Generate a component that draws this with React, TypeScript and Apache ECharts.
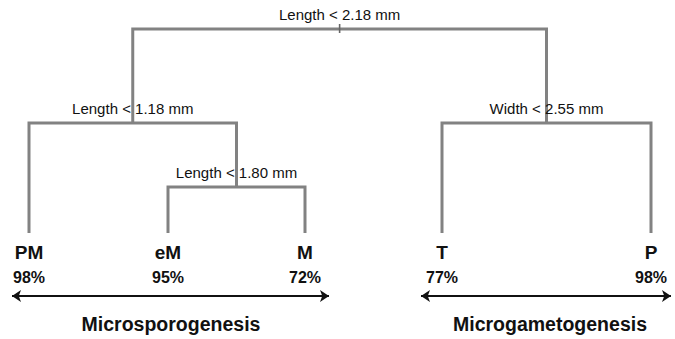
import React, { useEffect, useRef } from 'react';
import * as echarts from 'echarts';

// Classification tree: developmental stage predicted from anther size
const leafNames = ['PM', 'eM', 'M', 'T', 'P'];
const leafAccuracy = [98, 95, 72, 77, 98];
const splitRules = ['Length < 2.18 mm', 'Length < 1.18 mm', 'Length < 1.80 mm', 'Width < 2.55 mm'];
// children of each split: 'L<i>' is a leaf, 'S<i>' is another split
const splitChildren = [
  ['S1', 'S3'],
  ['L0', 'S2'],
  ['L1', 'L2'],
  ['L3', 'L4'],
];
const stageNames = ['Microsporogenesis', 'Microgametogenesis'];

// Layout (plot units = pixels of the 675 x 339 canvas, y grows downwards)
const W = 675;
const H = 339;
const leafX = [29, 168, 305, 442, 651];
const splitY = [29, 123, 187, 123];
const leafTopY = 233;
const leafNameY = 252;
const accuracyY = 277;
const arrowY = 296;
const stageSpan = [
  [8, 333],
  [417, 675],
];
const stageLabelX = [171, 550];
const stageLabelY = 324;

const FONT = "'Liberation Sans', Arial, Helvetica, sans-serif";
const TREE_COLOR = '#828282';
const INK = '#111111';

function nodeX(id: string): number {
  const i = Number(id.slice(1));
  if (id[0] === 'L') return leafX[i];
  const [a, b] = splitChildren[i];
  return (nodeX(a) + nodeX(b)) / 2;
}
function nodeY(id: string): number {
  const i = Number(id.slice(1));
  return id[0] === 'L' ? leafTopY : splitY[i];
}

function textSeries(
  items: { x: number; y: number; text: string }[],
  font: string,
) {
  return {
    type: 'custom',
    coordinateSystem: 'cartesian2d',
    clip: false,
    silent: true,
    data: items.map((d) => [d.x, d.y]),
    renderItem: (params: any, api: any) => {
      const d = items[params.dataIndex];
      const p = api.coord([d.x, d.y]);
      return {
        type: 'text',
        x: p[0],
        y: p[1],
        style: {
          text: d.text,
          font,
          fill: INK,
          align: 'center',
          verticalAlign: 'middle',
        },
      };
    },
  };
}

export default function App() {
  const ref = useRef<HTMLDivElement>(null);

  useEffect(() => {
    if (!ref.current) return;
    const chart = echarts.init(ref.current, undefined, { renderer: 'svg' });

    const rootX = nodeX('S0');

    const option: any = {
      animation: false,
      backgroundColor: '#ffffff',
      grid: { left: 0, right: 0, top: 0, bottom: 0, containLabel: false },
      xAxis: { type: 'value', min: 0, max: W, show: false },
      yAxis: { type: 'value', min: 0, max: H, inverse: true, show: false },
      series: [
        // elbow connectors of every split
        {
          type: 'custom',
          coordinateSystem: 'cartesian2d',
          clip: false,
          silent: true,
          data: splitChildren.map((_, i) => [nodeX('S' + i), splitY[i]]),
          renderItem: (params: any, api: any) => {
            const i = params.dataIndex;
            const [a, b] = splitChildren[i];
            const y = splitY[i];
            const pts = [
              [nodeX(a), nodeY(a)],
              [nodeX(a), y],
              [nodeX(b), y],
              [nodeX(b), nodeY(b)],
            ].map((q) => api.coord(q));
            return {
              type: 'polyline',
              shape: { points: pts },
              style: { stroke: TREE_COLOR, lineWidth: 3, fill: 'none', lineJoin: 'miter' },
            };
          },
        },
        // small tick marking the root split
        {
          type: 'custom',
          coordinateSystem: 'cartesian2d',
          clip: false,
          silent: true,
          data: [[rootX, splitY[0]]],
          renderItem: (params: any, api: any) => {
            const p1 = api.coord([rootX, splitY[0] - 5]);
            const p2 = api.coord([rootX, splitY[0] + 4]);
            return {
              type: 'line',
              shape: { x1: p1[0], y1: p1[1], x2: p2[0], y2: p2[1] },
              style: { stroke: '#666666', lineWidth: 1.6 },
            };
          },
        },
        // stage arrows
        {
          type: 'lines',
          coordinateSystem: 'cartesian2d',
          silent: true,
          symbol: ['arrow', 'arrow'],
          symbolSize: 9,
          lineStyle: { color: INK, width: 1.8, opacity: 1 },
          data: stageSpan.map((s) => ({
            coords: [
              [s[0] + 4, arrowY],
              [s[1] - 4, arrowY],
            ],
          })),
        },
        textSeries(
          splitRules.map((t, i) => ({ x: nodeX('S' + i), y: splitY[i] - 15, text: t })),
          `normal 15px ${FONT}`,
        ),
        textSeries(
          leafNames.map((t, i) => ({ x: leafX[i], y: leafNameY, text: t })),
          `bold 19px ${FONT}`,
        ),
        textSeries(
          leafAccuracy.map((v, i) => ({ x: leafX[i], y: accuracyY, text: `${v}%` })),
          `bold 16px ${FONT}`,
        ),
        textSeries(
          stageNames.map((t, i) => ({ x: stageLabelX[i], y: stageLabelY, text: t })),
          `bold 19.5px ${FONT}`,
        ),
      ],
    };

    chart.setOption(option);
    return () => chart.dispose();
  }, []);

  return (
    <div
      ref={ref}
      style={{ position: 'fixed', left: 0, top: 0, width: W, height: H, background: '#fff' }}
    />
  );
}
